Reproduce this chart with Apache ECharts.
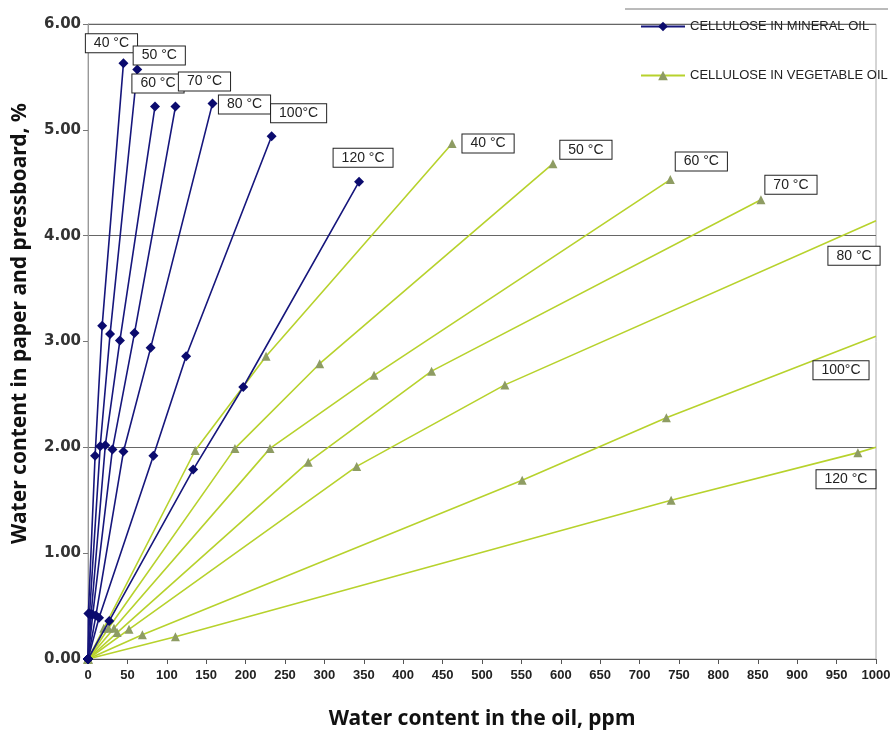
<!DOCTYPE html>
<html><head><meta charset="utf-8">
<script src="https://cdn.jsdelivr.net/npm/echarts@6/dist/echarts.min.js"></script>
<style>html,body{margin:0;padding:0;background:#fff}#c{width:893px;height:732px}</style>
</head><body><div id="c"></div>
<script>
// ---- data (ppm, %) ----
const legendNames = ['CELLULOSE IN MINERAL OIL', 'CELLULOSE IN VEGETABLE OIL'];
const mineralLabels = ['40 °C', '50 °C', '60 °C', '70 °C', '80 °C', '100°C', '120 °C'];
const vegetableLabels = ['40 °C', '50 °C', '60 °C', '70 °C', '80 °C', '100°C', '120 °C'];

const mineral40 = [[0,0],[0.5,0.43],[9,1.92],[18,3.15],[45,5.63]];
const mineral50 = [[0,0],[2,0.43],[15.5,2.01],[28,3.07],[62.5,5.57]];
const mineral60 = [[0,0],[4,0.42],[22,2.02],[40.5,3.01],[85,5.22]];
const mineral70 = [[0,0],[6,0.42],[31,1.98],[59,3.08],[111,5.22]];
const mineral80 = [[0,0],[10,0.41],[45,1.96],[79.5,2.94],[158,5.25]];
const mineral100 = [[0,0],[14,0.39],[83,1.92],[124.5,2.86],[233,4.94]];
const mineral120 = [[0,0],[27,0.36],[133.5,1.79],[197,2.57],[344,4.51]];

const vegetable40 = [[0,0],[20,0.29],[136,1.97],[226,2.86],[462,4.87]];
const vegetable50 = [[0,0],[26,0.29],[186.5,1.99],[294,2.79],[590,4.68]];
const vegetable60 = [[0,0],[33,0.29],[231,1.99],[363,2.68],[739,4.53]];
const vegetable70 = [[0,0],[37,0.25],[279.5,1.86],[436,2.72],[854,4.34]];
const vegetable80 = [[0,0],[52,0.28],[341,1.82],[529,2.59],[1000,4.14]];
const vegetable100 = [[0,0],[69,0.23],[551,1.69],[734,2.28],[1000,3.05]];
const vegetable120 = [[0,0],[111,0.21],[740,1.50],[977,1.95],[1000,2.00]];

const xTicks = { min: 0, max: 1000, interval: 50 };
const yTicks = { min: 0, max: 6, interval: 1 };

// ---- styling ----
const mineralSets = [mineral40, mineral50, mineral60, mineral70, mineral80, mineral100, mineral120];
const vegetableSets = [vegetable40, vegetable50, vegetable60, vegetable70, vegetable80, vegetable100, vegetable120];
// label offsets (px) relative to the labelled point
const mineralOffsets = [[-12,-20],[22,-14],[3,-23],[29,-25],[32,1],[27,-23],[4,-24]];
const vegetableOffsets = [[36,0],[33,-14],[31,-18],[30,-15],[-22,35],[-35,34],[-30,32]];
// vegetable end points at the axis edge carry no visible marker
const vegetableEndHidden = [false,false,false,false,true,true,true];

const labelBox = {
  show: true, position: 'inside', backgroundColor: '#fff', borderColor: '#222', borderWidth: 1,
  padding: [2, 8], fontSize: 14, fontFamily: 'Liberation Sans, Arial, sans-serif', color: '#222'
};

function buildSeries(sets, labels, offsets, name, lineColor, markColor, symbol, symbolSize, hidden) {
  return sets.map((pts, i) => {
    const last = pts.length - 1;
    const data = pts.map((p, j) => {
      const item = { value: p };
      if (j === last) {
        item.label = Object.assign({}, labelBox, { offset: offsets[i], formatter: labels[i] });
        if (hidden && hidden[i]) item.itemStyle = { color: 'rgba(0,0,0,0)' };
      }
      return item;
    });
    return {
      type: 'line', name: name, data: data, symbol: symbol, symbolSize: symbolSize,
      showAllSymbol: true, clip: false, z: symbol === 'diamond' ? 3 : 2,
      lineStyle: { color: lineColor, width: 1.6 },
      itemStyle: { color: markColor },
      emphasis: { disabled: true },
      label: { show: false }
    };
  });
}

const series = [].concat(
  buildSeries(vegetableSets, vegetableLabels, vegetableOffsets, legendNames[1], '#b7d22c', '#8e9c63', 'triangle', 9, vegetableEndHidden),
  buildSeries(mineralSets, mineralLabels, mineralOffsets, legendNames[0], '#16167c', '#0b0b6e', 'diamond', 10, null)
);

const chart = echarts.init(document.getElementById('c'), null, { renderer: 'canvas' });
chart.setOption({
  animation: false,
  backgroundColor: '#fff',
  grid: { left: 88, right: 17, top: 24, bottom: 73, outerBoundsMode: 'none', containLabel: false,
          show: true, borderColor: '#aaa', borderWidth: 1, backgroundColor: 'transparent' },
  legend: {
    data: [legendNames[0], legendNames[1]],
    orient: 'vertical', left: 635, top: 15, itemGap: 36, itemWidth: 44, itemHeight: 12,
    textStyle: { fontFamily: 'Liberation Sans, Arial, sans-serif', fontSize: 13, color: '#222' },
    selectedMode: false
  },
  graphic: [{ type: 'line', shape: { x1: 625, y1: 9, x2: 888, y2: 9 }, style: { stroke: '#777', lineWidth: 1 } }],
  xAxis: {
    type: 'value', min: xTicks.min, max: xTicks.max, interval: xTicks.interval,
    axisLine: { show: true, lineStyle: { color: '#555', width: 1 } },
    axisTick: { show: true, length: 5, lineStyle: { color: '#555' } },
    splitLine: { show: false },
    axisLabel: { formatter: v => String(v), fontFamily: 'Liberation Sans, Arial, sans-serif', fontWeight: 'bold', fontSize: 13, color: '#222', margin: 10 },
    name: 'Water content in the oil, ppm', nameLocation: 'middle', nameGap: 50,
    nameTextStyle: { fontFamily: 'Noto Sans, sans-serif', fontWeight: 'bold', fontSize: 21, color: '#111' }
  },
  yAxis: [{
    type: 'value', min: yTicks.min, max: yTicks.max, interval: yTicks.interval,
    axisLine: { show: true, lineStyle: { color: '#999', width: 1 } },
    axisTick: { show: true, length: 5, lineStyle: { color: '#777' } },
    splitLine: { show: false },
    axisLabel: { formatter: v => v.toFixed(2), fontFamily: 'DejaVu Sans, sans-serif', fontWeight: 'bold', fontSize: 15, color: '#333', margin: 7 },
    name: 'Water content in paper and pressboard, %', nameLocation: 'middle', nameGap: 57,
    nameTextStyle: { fontFamily: 'Noto Sans, sans-serif', fontWeight: 'bold', fontSize: 21, color: '#111', padding: [0, 0, 0, 36] }
  }, {
    type: 'value', min: 0, max: 6, interval: 2, position: 'left',
    axisLine: { show: false }, axisTick: { show: false }, axisLabel: { show: false },
    splitLine: { show: true, lineStyle: { color: '#666', width: 1 } }
  }],
  series: series
});
</script>
</body></html>
